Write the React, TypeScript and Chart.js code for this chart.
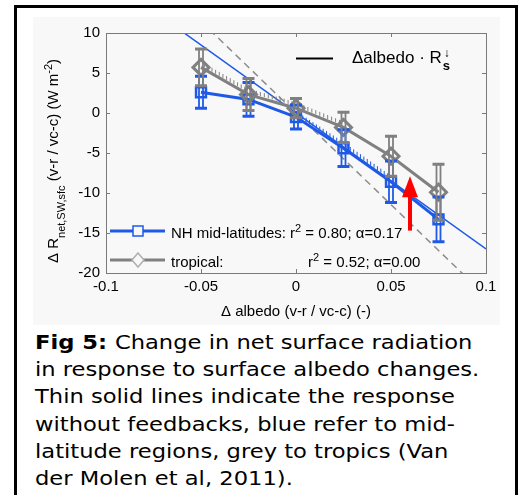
import React, { useEffect, useRef } from 'react';
import { Chart, registerables } from 'chart.js';

Chart.register(...registerables);

// ---------- data ----------
const albedoX = [-0.05, -0.025, 0, 0.025, 0.05, 0.075];
const nhMidValues = [2.6, 1.7, -0.5, -4.4, -8.6, -13.3];
const nhMidErrors = [2.0, 2.1, 1.5, 2.3, 2.6, 2.8];
const tropicalValues = [5.7, 2.3, 0.6, -1.8, -5.4, -9.9];
const tropicalErrors = [2.3, 2.0, 1.2, 1.9, 2.5, 3.5];
const refLineX = [-0.1, 0.1];
const nhMidRefY = [17, -17];
const tropicalRefY = [22.9, -22.9];
const xTickValues = [-0.1, -0.05, 0, 0.05, 0.1];
const xTickLabels = ['-0.1', '-0.05', '0', '0.05', '0.1'];
const yTickValues = [-20, -15, -10, -5, 0, 5, 10];
const yTickLabels = ['-20', '-15', '-10', '-5', '0', '5', '10'];
const arrowX = 0.06;
const arrowFrom = -14.7;
const arrowTo = -7.9;
const hatchTropical = [0, 3];
const hatchNhMid = [2, 4];

const nhMidLabel = 'NH mid-latitudes:';
const nhMidStats = { r2: '0.80', alpha: '0.17' };
const tropicalLabel = 'tropical:';
const tropicalStats = { r2: '0.52', alpha: '0.00' };

const captionLines = [
  'Change in net surface radiation',
  'in response to surface albedo changes.',
  'Thin solid lines indicate the response',
  'without feedbacks, blue refer to mid-',
  'latitude regions, grey to tropics (Van',
  'der Molen et al, 2011).',
];

// ---------- styles ----------
const FONT = '"Liberation Sans", Arial, Helvetica, sans-serif';
const BLUE = '#1f5ae6';
const GREY = '#808080';
const AXIS = '#7a7a7a';

const drawRich = (ctx: CanvasRenderingContext2D, parts: any[], x: number, y: number) => {
  let cx = x;
  for (const p of parts) {
    ctx.font = `${p.bold ? 'bold ' : ''}${p.size}px ${FONT}`;
    ctx.fillText(p.t, cx, y + (p.dy || 0));
    cx += ctx.measureText(p.t).width;
  }
  return cx;
};

const decorPlugin = {
  id: 'decor',
  afterDatasetsDraw(chart: any) {
    const ctx: CanvasRenderingContext2D = chart.ctx;
    const xs = chart.scales.x;
    const ys = chart.scales.y;
    const area = chart.chartArea;
    ctx.save();
    ctx.beginPath();
    ctx.rect(area.left, area.top, area.right - area.left, area.bottom - area.top);
    ctx.clip();

    // hatch ticks along segments
    const hatch = (dsIndex: number, range: number[], color: string) => {
      const pts = chart.getDatasetMeta(dsIndex).data;
      ctx.strokeStyle = color;
      ctx.lineWidth = 1;
      for (let i = range[0]; i < range[1]; i++) {
        const a = pts[i], b = pts[i + 1];
        const len = Math.hypot(b.x - a.x, b.y - a.y);
        const n = Math.floor(len / 4);
        for (let k = 1; k < n; k++) {
          const t = k / n;
          const px = a.x + (b.x - a.x) * t;
          const py = a.y + (b.y - a.y) * t;
          ctx.beginPath();
          ctx.moveTo(px, py - 2);
          ctx.lineTo(px, py - 6);
          ctx.stroke();
        }
      }
    };
    hatch(1, hatchNhMid, BLUE);
    hatch(0, hatchTropical, GREY);

    // error bars
    const errBars = (values: number[], errs: number[], color: string) => {
      ctx.strokeStyle = color;
      for (let i = 0; i < albedoX.length; i++) {
        const px = xs.getPixelForValue(albedoX[i]);
        const top = ys.getPixelForValue(values[i] + errs[i]);
        const bot = ys.getPixelForValue(values[i] - errs[i]);
        ctx.lineWidth = 1.8;
        ctx.beginPath();
        ctx.moveTo(px - 2, top); ctx.lineTo(px - 2, bot);
        ctx.moveTo(px + 2, top); ctx.lineTo(px + 2, bot);
        ctx.stroke();
        ctx.lineWidth = 3;
        ctx.beginPath();
        ctx.moveTo(px - 6, top); ctx.lineTo(px + 6, top);
        ctx.moveTo(px - 6, bot); ctx.lineTo(px + 6, bot);
        ctx.stroke();
      }
    };
    errBars(nhMidValues, nhMidErrors, BLUE);
    errBars(tropicalValues, tropicalErrors, GREY);

    // red arrow
    const ax = xs.getPixelForValue(arrowX);
    const ay0 = ys.getPixelForValue(arrowFrom);
    const ay1 = ys.getPixelForValue(arrowTo);
    ctx.fillStyle = '#ff0000';
    ctx.strokeStyle = '#ff0000';
    ctx.lineWidth = 4;
    ctx.beginPath();
    ctx.moveTo(ax, ay0);
    ctx.lineTo(ax, ay1 + 18);
    ctx.stroke();
    ctx.beginPath();
    ctx.moveTo(ax, ay1);
    ctx.lineTo(ax - 8, ay1 + 21);
    ctx.lineTo(ax + 8, ay1 + 21);
    ctx.closePath();
    ctx.fill();
    ctx.restore();
  },
  afterDraw(chart: any) {
    const ctx: CanvasRenderingContext2D = chart.ctx;
    const xs = chart.scales.x;
    const ys = chart.scales.y;
    const area = chart.chartArea;
    ctx.save();

    // box and inward ticks
    ctx.strokeStyle = AXIS;
    ctx.lineWidth = 1;
    ctx.beginPath();
    ctx.moveTo(area.left, area.top + 0.5);
    ctx.lineTo(area.right + 0.5, area.top + 0.5);
    ctx.lineTo(area.right + 0.5, area.bottom);
    for (const t of xs.ticks) {
      const px = Math.round(xs.getPixelForValue(t.value)) + 0.5;
      ctx.moveTo(px, area.top); ctx.lineTo(px, area.top + 4);
      ctx.moveTo(px, area.bottom); ctx.lineTo(px, area.bottom - 4);
    }
    for (const t of ys.ticks) {
      const py = Math.round(ys.getPixelForValue(t.value)) + 0.5;
      ctx.moveTo(area.left, py); ctx.lineTo(area.left + 4, py);
      ctx.moveTo(area.right, py); ctx.lineTo(area.right - 4, py);
    }
    ctx.stroke();

    // y axis title (rotated, with sub/superscripts)
    ctx.fillStyle = '#000';
    ctx.textBaseline = 'alphabetic';
    ctx.textAlign = 'left';
    const parts = [
      { t: '\u0394 R', size: 15, dy: 0 },
      { t: 'net,SW,sfc', size: 11, dy: 7 },
      { t: ' (v-r / vc-c) (W m', size: 15, dy: 0 },
      { t: '-2', size: 11, dy: -6 },
      { t: ')', size: 15, dy: 0 },
    ];
    let total = 0;
    for (const p of parts) {
      ctx.font = `${p.size}px ${FONT}`;
      total += ctx.measureText(p.t).width;
    }
    ctx.translate(24.5, (area.top + area.bottom) / 2 + 8);
    ctx.rotate(-Math.PI / 2);
    drawRich(ctx, parts, -total / 2, 0);
    ctx.setTransform(1, 0, 0, 1, 0, 0);
    ctx.scale(chart.currentDevicePixelRatio, chart.currentDevicePixelRatio);

    // top-right legend
    ctx.strokeStyle = '#000';
    ctx.lineWidth = 2;
    ctx.beginPath();
    ctx.moveTo(area.left + 190, area.top + 25.5);
    ctx.lineTo(area.left + 227, area.top + 25.5);
    ctx.stroke();
    ctx.fillStyle = '#000';
    const end = drawRich(ctx, [{ t: '\u0394albedo \u00b7 R', size: 17, dy: 0 }], area.left + 246, area.top + 30);
    drawRich(ctx, [{ t: 's', size: 13, dy: 7, bold: true }], end + 1, area.top + 30);
    drawRich(ctx, [{ t: '\u2193', size: 12, dy: -6 }], end + 2, area.top + 30);

    // bottom-left legend
    const legendRow = (yOff: number, color: string, style: string, label: string, stats: any, statsX: number | null) => {
      const ly = area.top + yOff;
      ctx.strokeStyle = color;
      ctx.lineWidth = 3;
      ctx.beginPath();
      ctx.moveTo(area.left + 4, ly);
      ctx.lineTo(area.left + 59, ly);
      ctx.stroke();
      const mx = area.left + 32;
      ctx.lineWidth = 1.5;
      ctx.fillStyle = '#f8f8f8';
      ctx.beginPath();
      if (style === 'rect') {
        ctx.rect(mx - 5, ly - 5, 10, 10);
      } else {
        ctx.moveTo(mx, ly - 7); ctx.lineTo(mx + 6, ly); ctx.lineTo(mx, ly + 7); ctx.lineTo(mx - 6, ly); ctx.closePath();
      }
      ctx.fill();
      ctx.strokeStyle = style === 'rect' ? color : '#b0b0b0';
      ctx.stroke();
      ctx.fillStyle = '#000';
      const base = ly + 7;
      let x = drawRich(ctx, [{ t: label, size: 15, dy: 0 }], area.left + 65, base);
      x = statsX !== null ? area.left + statsX : x + 4;
      drawRich(ctx, [
        { t: 'r', size: 15, dy: 0 },
        { t: '2', size: 11, dy: -6 },
        { t: ' = ' + stats.r2 + '; \u03b1=' + stats.alpha, size: 15, dy: 0 },
      ], x, base);
    };
    legendRow(198, BLUE, 'rect', nhMidLabel, nhMidStats, null);
    legendRow(227, GREY, 'diamond', tropicalLabel, tropicalStats, 202);

    ctx.restore();
  },
};

export default function App() {
  const canvasRef = useRef<HTMLCanvasElement | null>(null);

  useEffect(() => {
    const canvas = canvasRef.current;
    if (!canvas) return;
    const xy = (xsArr: number[], ysArr: number[]) => xsArr.map((x, i) => ({ x, y: ysArr[i] }));
    const chart = new Chart(canvas, {
      type: 'scatter',
      data: {
        datasets: [
          {
            label: 'tropical',
            data: xy(albedoX, tropicalValues),
            showLine: true,
            borderColor: GREY,
            borderWidth: 3,
            pointStyle: 'rectRot',
            pointRadius: 8,
            pointBorderWidth: 3,
            pointBorderColor: GREY,
            pointBackgroundColor: 'rgba(0,0,0,0)',
          },
          {
            label: 'NH mid-latitudes',
            data: xy(albedoX, nhMidValues),
            showLine: true,
            borderColor: BLUE,
            borderWidth: 3,
            pointStyle: 'rect',
            pointRadius: 7,
            pointBorderWidth: 2.5,
            pointBorderColor: BLUE,
            pointBackgroundColor: 'rgba(0,0,0,0)',
          },
          {
            label: 'midRef',
            data: xy(refLineX, nhMidRefY),
            showLine: true,
            borderColor: BLUE,
            borderWidth: 1.5,
            pointRadius: 0,
          },
          {
            label: 'tropRef',
            data: xy(refLineX, tropicalRefY),
            showLine: true,
            borderColor: '#8c8c8c',
            borderWidth: 1.5,
            borderDash: [7, 5],
            pointRadius: 0,
          },
        ],
      } as any,
      options: {
        responsive: false,
        animation: false,
        events: [],
        layout: { padding: { top: 16, right: 14, left: 0, bottom: 0 } },
        plugins: { legend: { display: false }, tooltip: { enabled: false } },
        scales: {
          x: {
            type: 'linear',
            min: -0.1,
            max: 0.1,
            grid: { display: false, drawTicks: false },
            border: { display: true, color: AXIS, width: 1 },
            afterBuildTicks: (s: any) => { s.ticks = xTickValues.map((v) => ({ value: v })); },
            afterFit: (s: any) => { s.height = 52; s.paddingLeft = 0; s.paddingRight = 0; },
            ticks: {
              autoSkip: false,
              maxRotation: 0,
              padding: 5,
              color: '#000',
              font: { family: FONT, size: 15 },
              callback: (_v: any, i: number) => xTickLabels[i],
            },
            title: {
              display: true,
              text: '\u0394 albedo (v-r / vc-c) (-)',
              color: '#000',
              font: { family: FONT, size: 15 },
              padding: { top: 0, bottom: 4 },
            },
          },
          y: {
            type: 'linear',
            min: -20,
            max: 10,
            grid: { display: false, drawTicks: false },
            border: { display: true, color: AXIS, width: 1 },
            afterBuildTicks: (s: any) => { s.ticks = yTickValues.map((v) => ({ value: v })); },
            afterFit: (s: any) => { s.width = 73; s.paddingTop = 0; s.paddingBottom = 0; },
            ticks: {
              autoSkip: false,
              padding: 6,
              color: '#000',
              font: { family: FONT, size: 15 },
              callback: (_v: any, i: number) => yTickLabels[i],
            },
          },
        },
      } as any,
      plugins: [decorPlugin],
    });
    return () => chart.destroy();
  }, []);

  return (
    <div style={{ position: 'absolute', left: 0, top: 0, width: 520, height: 495, overflow: 'hidden', background: '#fff' }}>
      <div
        style={{
          position: 'absolute',
          left: 14,
          top: 5,
          width: 498,
          height: 490,
          borderTop: '3px solid #000',
          borderLeft: '3px solid #000',
          borderRight: '3px solid #000',
        }}
      />
      <div style={{ position: 'absolute', left: 33, top: 17, width: 467, height: 308, background: '#f8f8f8' }}>
        <canvas ref={canvasRef} width={467} height={308} style={{ width: 467, height: 308, display: 'block' }} />
      </div>
      <div
        style={{
          position: 'absolute',
          left: 35,
          top: 328.8,
          fontFamily: '"DejaVu Sans", Verdana, sans-serif',
          fontSize: 19,
          lineHeight: '27.3px',
          color: '#000',
          whiteSpace: 'nowrap',
          transform: 'scaleX(1.19)',
          transformOrigin: '0 0',
        }}
      >
        {captionLines.map((line, i) => (
          <div key={i}>
            {i === 0 ? <b>Fig 5: </b> : null}
            {line}
          </div>
        ))}
      </div>
    </div>
  );
}
